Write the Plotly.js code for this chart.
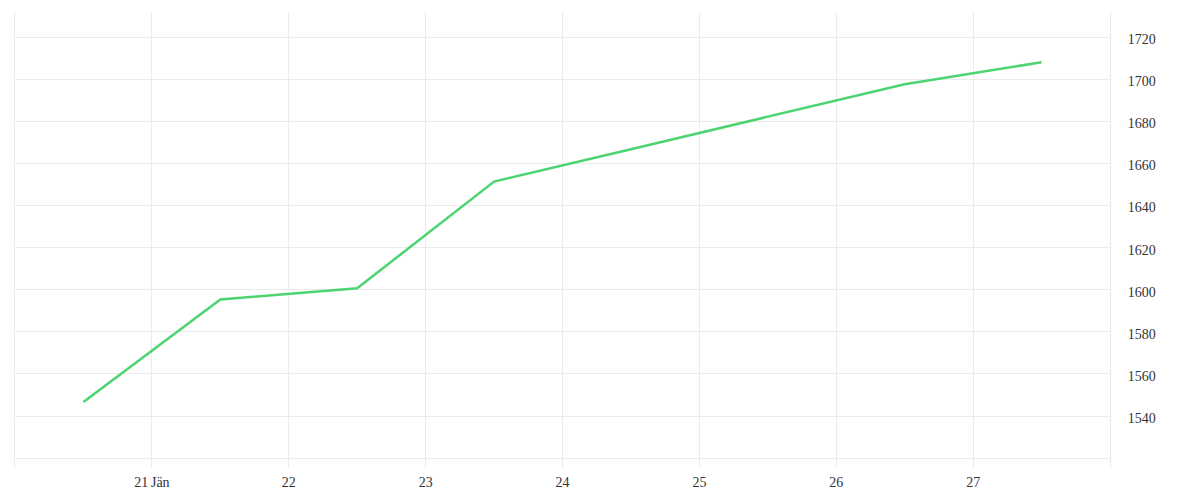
<!DOCTYPE html>
<html>
<head>
<meta charset="utf-8">
<script src="https://cdn.plot.ly/plotly-3.0.1.min.js"></script>
<style>html,body{margin:0;padding:0;background:#fff;}#chart{width:1200px;height:500px;}</style>
</head>
<body>
<div id="chart"></div>
<script>
const dates = ["2024-01-20 12:00","2024-01-21 12:00","2024-01-22 12:00","2024-01-23 12:00","2024-01-24 12:00","2024-01-25 12:00","2024-01-26 12:00","2024-01-27 12:00"];
const values = [1546.7, 1595.4, 1600.7, 1651.4, 1666.8, 1682.3, 1697.7, 1708.1];
const xTickVals = ["2024-01-21","2024-01-22","2024-01-23","2024-01-24","2024-01-25","2024-01-26","2024-01-27"];
const xTickText = ["21\u2009Jän","22","23","24","25","26","27"];
const yTickVals = [1520,1540,1560,1580,1600,1620,1640,1660,1680,1700,1720];
const yTickText = ["","1540","1560","1580","1600","1620","1640","1660","1680","1700","1720"];

const font = {family: "'Liberation Serif', 'Times New Roman', serif", size: 14, color: "#333"};
Plotly.newPlot("chart", [{
  x: dates, y: values, type: "scatter", mode: "lines",
  line: {color: "#4cd471", width: 2.5},
  hoverinfo: "x+y"
}], {
  width: 1200, height: 500,
  margin: {l: 15, r: 90, t: 12, b: 32},
  paper_bgcolor: "#fff", plot_bgcolor: "#fff",
  showlegend: false,
  font: font,
  xaxis: {
    type: "date", range: ["2024-01-20", "2024-01-28"],
    tickmode: "array", tickvals: xTickVals, ticktext: xTickText,
    showgrid: true, gridcolor: "#ebebeb", gridwidth: 1,
    zeroline: false, showline: false, ticks: "", ticklabelstandoff: 4,
    tickfont: font, fixedrange: true
  },
  yaxis: {
    side: "right", range: [1515.3, 1732],
    tickmode: "array", tickvals: yTickVals, ticktext: yTickText,
    showgrid: true, gridcolor: "#ebebeb", gridwidth: 1,
    zeroline: false, showline: true, mirror: true, linecolor: "#ebebeb", linewidth: 1,
    ticks: "", ticklabelstandoff: 14, ticklabelshift: 2, tickfont: font, fixedrange: true
  }
}, {displayModeBar: false, staticPlot: true});
</script>
</body>
</html>
